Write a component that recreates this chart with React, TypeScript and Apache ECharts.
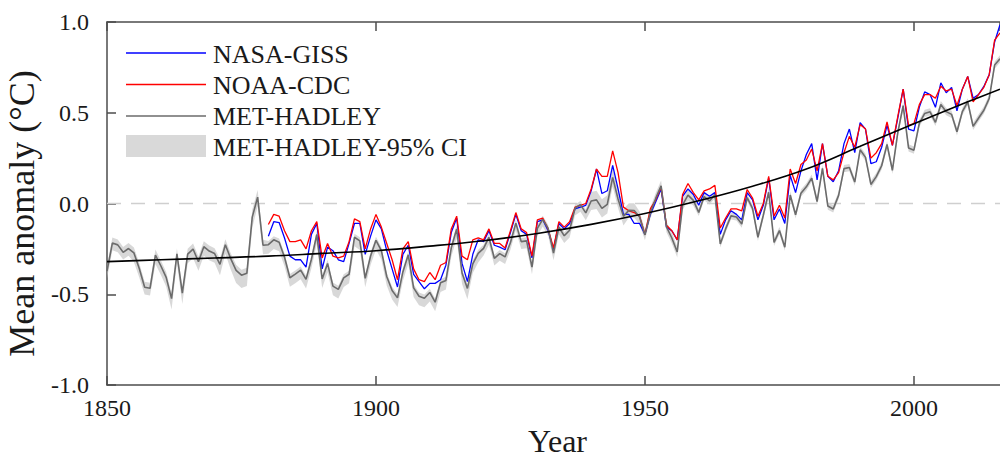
import React, { useEffect, useRef } from "react";
import * as echarts from "echarts";

const hadleyStart = 1850;
const hadley = [
  -0.373, -0.218, -0.228, -0.269, -0.248, -0.272, -0.358, -0.461, -0.467, -0.284,
  -0.343, -0.407, -0.524, -0.278, -0.494, -0.279, -0.251, -0.321, -0.238, -0.262,
  -0.276, -0.335, -0.227, -0.304, -0.368, -0.395, -0.384, -0.075, 0.035, -0.23,
  -0.227, -0.2, -0.213, -0.296, -0.409, -0.389, -0.367, -0.418, -0.307, -0.171,
  -0.416, -0.33, -0.455, -0.473, -0.41, -0.39, -0.186, -0.206, -0.412, -0.289,
  -0.203, -0.259, -0.402, -0.479, -0.52, -0.377, -0.283, -0.465, -0.511, -0.522,
  -0.49, -0.544, -0.437, -0.424, -0.244, -0.141, -0.383, -0.468, -0.333, -0.275,
  -0.247, -0.187, -0.302, -0.276, -0.294, -0.215, -0.108, -0.21, -0.206, -0.35,
  -0.137, -0.087, -0.137, -0.273, -0.131, -0.178, -0.147, -0.026, -0.006, -0.052,
  0.014, 0.02, -0.027, -0.005, 0.144, 0.025, -0.071, -0.038, -0.039, -0.074,
  -0.173, -0.052, 0.028, 0.097, -0.129, -0.19, -0.267, -0.007, 0.046, 0.017,
  -0.049, 0.038, 0.014, 0.048, -0.223, -0.14, -0.068, -0.074, -0.113, 0.032,
  -0.027, -0.186, -0.065, 0.062, -0.214, -0.149, -0.241, 0.047, -0.062, 0.057,
  0.092, 0.14, 0.011, 0.194, -0.014, -0.03, 0.045, 0.192, 0.198, 0.118,
  0.296, 0.254, 0.105, 0.148, 0.208, 0.325, 0.183, 0.39, 0.539, 0.306,
  0.294, 0.441, 0.496, 0.505, 0.447, 0.545, 0.506, 0.491, 0.395, 0.506,
  0.56, 0.425, 0.47, 0.514, 0.579, 0.763, 0.797,
];

// 95% CI distance below / above the MET-HADLEY line, in hundredths of a degree
const ciBelow = [
  4, 4, 4, 4, 4, 5, 5, 4, 4, 5,
  5, 5, 6, 5, 6, 5, 5, 5, 5, 5,
  5, 6, 5, 6, 7, 7, 7, 6, 5, 5,
  5, 5, 5, 5, 5, 5, 5, 5, 5, 5,
  5, 5, 5, 5, 5, 5, 5, 5, 5, 5,
  5, 5, 5, 5, 5, 5, 5, 5, 5, 5,
  5, 5, 5, 5, 5, 5, 6, 6, 5, 5,
  4, 4, 4, 4, 4, 4, 4, 4, 4, 4,
  4, 4, 4, 4, 4, 4, 4, 4, 4, 4,
  5, 5, 5, 5, 5, 5, 5, 4, 4, 4,
  3, 3, 3, 3, 3, 3, 3, 3, 3, 3,
  2, 2, 2, 2, 2, 2, 2, 2, 2, 2,
  2, 2, 2, 2, 2, 2, 2, 2, 2, 2,
  2, 2, 2, 2, 2, 2, 2, 2, 2, 2,
  2, 2, 2, 2, 2, 2, 2, 2, 2, 2,
  2, 2, 2, 2, 2, 2, 2, 2, 2, 2,
  2, 2, 2, 2, 2, 2, 2,
];
const ciAbove = [
  3, 3, 3, 3, 3, 3, 3, 3, 3, 3,
  3, 3, 3, 3, 3, 3, 3, 3, 3, 3,
  3, 3, 3, 3, 3, 3, 3, 4, 4, 3,
  2, 2, 2, 2, 2, 2, 2, 2, 2, 2,
  2, 2, 2, 2, 2, 2, 2, 2, 2, 2,
  2, 2, 2, 2, 2, 2, 2, 2, 2, 2,
  2, 2, 2, 2, 2, 2, 2, 2, 2, 2,
  2, 2, 2, 2, 2, 2, 2, 2, 2, 2,
  2, 2, 2, 2, 2, 2, 2, 2, 2, 2,
  5, 5, 5, 5, 5, 5, 4, 4, 4, 3,
  3, 3, 3, 3, 3, 3, 3, 3, 3, 3,
  2, 2, 2, 2, 2, 2, 2, 2, 2, 2,
  2, 2, 2, 2, 2, 2, 2, 2, 2, 2,
  2, 2, 2, 2, 2, 2, 2, 2, 2, 2,
  2, 2, 2, 2, 2, 2, 2, 2, 2, 2,
  2, 2, 2, 2, 2, 2, 2, 2, 2, 2,
  2, 2, 2, 2, 2, 2, 2,
];

const otherStart = 1880;
const nasa = [
  -0.18, -0.1, -0.105, -0.19, -0.29, -0.31, -0.31, -0.35, -0.17, -0.11,
  -0.36, -0.24, -0.26, -0.31, -0.32, -0.22, -0.11, -0.11, -0.28, -0.18,
  -0.09, -0.14, -0.26, -0.36, -0.46, -0.28, -0.23, -0.39, -0.43, -0.47,
  -0.44, -0.44, -0.42, -0.34, -0.16, -0.08, -0.33, -0.43, -0.28, -0.2,
  -0.21, -0.15, -0.23, -0.24, -0.255, -0.16, -0.06, -0.15, -0.17, -0.3,
  -0.1, -0.09, -0.15, -0.25, -0.11, -0.14, -0.11, -0.03, -0.02, -0.01,
  0.07, 0.19, 0.055, 0.07, 0.21, 0.08, -0.06, -0.06, -0.11, -0.11,
  -0.17, -0.06, 0.01, 0.08, -0.13, -0.15, -0.2, 0.04, 0.08, 0.05,
  -0.01, 0.06, 0.04, 0.06, -0.17, -0.09, -0.04, -0.06, -0.09, 0.06,
  0.02, -0.09, -0.01, 0.14, -0.09, -0.03, -0.11, 0.155, 0.06, 0.18,
  0.27, 0.33, 0.13, 0.33, 0.15, 0.12, 0.18, 0.33, 0.41, 0.28,
  0.445, 0.41, 0.22, 0.23, 0.31, 0.43, 0.32, 0.47, 0.63, 0.41,
  0.4, 0.53, 0.615, 0.6, 0.53, 0.665, 0.61, 0.64, 0.51, 0.63,
  0.7, 0.58, 0.6, 0.645, 0.71, 0.89, 0.985,
];
const noaa = [
  -0.116, -0.06, -0.07, -0.15, -0.21, -0.21, -0.2, -0.25, -0.15, -0.1,
  -0.3, -0.22, -0.29, -0.3, -0.29, -0.21, -0.085, -0.1, -0.25, -0.14,
  -0.06, -0.13, -0.22, -0.31, -0.42, -0.25, -0.21, -0.36, -0.42, -0.43,
  -0.38, -0.42, -0.34, -0.325, -0.14, -0.07, -0.29, -0.31, -0.2, -0.19,
  -0.2, -0.14, -0.22, -0.22, -0.245, -0.15, -0.05, -0.14, -0.16, -0.29,
  -0.09, -0.08, -0.14, -0.245, -0.1, -0.13, -0.1, -0.02, -0.01, 0.0,
  0.08, 0.19, 0.15, 0.15, 0.29, 0.17, -0.02, -0.04, -0.05, -0.07,
  -0.17, -0.03, 0.02, 0.09, -0.12, -0.15, -0.2, 0.05, 0.11, 0.06,
  0.02, 0.07, 0.08, 0.1, -0.135, -0.08, -0.03, -0.03, -0.04, 0.077,
  0.03, -0.07, 0.0, 0.15, -0.07, -0.01, -0.08, 0.19, 0.11, 0.215,
  0.24, 0.3, 0.18, 0.33, 0.15, 0.13, 0.17, 0.28, 0.37, 0.31,
  0.435, 0.41, 0.25, 0.28, 0.33, 0.45, 0.32, 0.48, 0.63, 0.43,
  0.44, 0.545, 0.6, 0.6, 0.58, 0.646, 0.62, 0.63, 0.54, 0.63,
  0.7, 0.56, 0.6, 0.64, 0.71, 0.9, 0.94,
];

const trendYears = [1850, 1860, 1870, 1880, 1890, 1900, 1910, 1920, 1930, 1940, 1950, 1960, 1970, 1980, 1990, 2000, 2010, 2016];
const trendValues = [-0.32, -0.31, -0.3, -0.29, -0.275, -0.26, -0.235, -0.205, -0.165, -0.115, -0.055, 0.015, 0.095, 0.19, 0.315, 0.44, 0.56, 0.63];

const xMin = 1850;
const xMax = 2016;
const xInterval = 50;
const yMin = -1;
const yMax = 1;
const yInterval = 0.5;
const seriesNames = ["NASA-GISS", "NOAA-CDC", "MET-HADLEY", "MET-HADLEY-95% CI"];
const xTitle = "Year";
const yTitle = "Mean anomaly (°C)";

const FONT = "Liberation Serif";
const AXIS_COLOR = "#4d4d4d";
const TEXT_COLOR = "#1a1a1a";

export default function App() {
  const ref = useRef<HTMLDivElement>(null);

  useEffect(() => {
    if (!ref.current) return;
    const chart = echarts.init(ref.current, undefined, { renderer: "svg" });

    const hadleyData = hadley.map((v, i) => [hadleyStart + i, v]);
    const nasaData = nasa.map((v, i) => [otherStart + i, v]);
    const noaaData = noaa.map((v, i) => [otherStart + i, v]);
    const trendData = trendYears.map((y, i) => [y, trendValues[i]]);

    const axisCommon = {
      type: "value" as const,
      axisLine: { show: true, onZero: false, lineStyle: { color: AXIS_COLOR, width: 1.5 } },
      axisTick: { show: true, inside: true, length: 9, lineStyle: { color: AXIS_COLOR, width: 1.5 } },
      splitLine: { show: false },
    };

    const legendY = [53, 84.5, 116];
    const legendColors = ["#0000ff", "#ff0000", "#6b6b6b"];
    const graphic: any[] = [];
    legendColors.forEach((c, i) => {
      graphic.push({
        type: "line",
        z: 100,
        shape: { x1: 126, y1: legendY[i], x2: 206, y2: legendY[i] },
        style: { stroke: c, lineWidth: 1.3 },
      });
    });
    graphic.push({
      type: "rect",
      z: 100,
      shape: { x: 126, y: 135, width: 80, height: 22 },
      style: { fill: "#d9d9d9" },
    });
    const textY = [54, 85, 116.5, 147];
    seriesNames.forEach((n, i) => {
      graphic.push({
        type: "text",
        z: 100,
        x: 213,
        y: textY[i],
        style: {
          text: n,
          fontFamily: FONT,
          fontSize: 26,
          fill: TEXT_COLOR,
          align: "left",
          verticalAlign: "middle",
        },
      });
    });

    chart.setOption({
      animation: false,
      backgroundColor: "#ffffff",
      textStyle: { fontFamily: FONT, color: TEXT_COLOR },
      grid: {
        left: 107,
        right: 0,
        top: 22,
        bottom: 75,
        containLabel: false,
        outerBoundsMode: "none",
      },
      xAxis: [
        {
          ...axisCommon,
          position: "bottom",
          min: xMin,
          max: xMax,
          interval: xInterval,
          axisLabel: {
            show: true,
            showMaxLabel: false,
            margin: 11,
            fontFamily: FONT,
            fontSize: 24,
            color: TEXT_COLOR,
            formatter: (v: number) => String(v),
          },
          name: xTitle,
          nameLocation: "middle",
          nameGap: 38,
          nameTextStyle: {
            fontFamily: FONT,
            fontSize: 32,
            lineHeight: 32,
            color: TEXT_COLOR,
            padding: [0, 0, 0, 8],
          },
        },
        {
          ...axisCommon,
          position: "top",
          min: xMin,
          max: xMax,
          interval: xInterval,
          axisLabel: { show: false },
        },
      ],
      yAxis: [
        {
          ...axisCommon,
          position: "left",
          min: yMin,
          max: yMax,
          interval: yInterval,
          axisLabel: {
            show: true,
            margin: 18,
            fontFamily: FONT,
            fontSize: 24,
            color: TEXT_COLOR,
            formatter: (v: number) => v.toFixed(1),
          },
          name: yTitle,
          nameLocation: "middle",
          nameGap: 60,
          nameRotate: 90,
          nameTextStyle: { fontFamily: FONT, fontSize: 36, color: TEXT_COLOR, padding: [0, 20, 0, 0] },
        },
      ],
      graphic,
      series: [
        {
          type: "line",
          name: "zero",
          data: [[xMin, 0], [xMax, 0]],
          symbol: "none",
          silent: true,
          lineStyle: { color: "#cfcfcf", width: 1.5, type: [14, 10] },
        },
        {
          type: "line",
          name: seriesNames[0],
          data: nasaData,
          symbol: "none",
          lineStyle: { color: "#0000ff", width: 1.3 },
        },
        {
          type: "line",
          name: seriesNames[1],
          data: noaaData,
          symbol: "none",
          lineStyle: { color: "#ff0000", width: 1.3 },
        },
        {
          type: "custom",
          name: seriesNames[3],
          coordinateSystem: "cartesian2d",
          data: [[xMin, 0]],
          encode: { x: 0, y: 1 },
          silent: true,
          renderItem: (params: any, api: any) => {
            if (params.dataIndex !== 0) return null;
            const upper = hadley.map((v, i) => api.coord([hadleyStart + i, v + ciAbove[i] / 100]));
            const lower = hadley.map((v, i) => api.coord([hadleyStart + i, v - ciBelow[i] / 100])).reverse();
            return {
              type: "polygon",
              shape: { points: upper.concat(lower) },
              style: { fill: "rgba(190,190,190,0.6)", stroke: "none" },
            };
          },
        },
        {
          type: "line",
          name: seriesNames[2],
          data: hadleyData,
          symbol: "none",
          lineStyle: { color: "#6b6b6b", width: 1.6 },
        },
        {
          type: "line",
          name: "trend",
          data: trendData,
          symbol: "none",
          smooth: 0.4,
          lineStyle: { color: "#000000", width: 1.6 },
        },
      ],
    });

    return () => chart.dispose();
  }, []);

  return (
    <div
      ref={ref}
      style={{ position: "absolute", left: 0, top: 0, width: 1000, height: 460, background: "#fff" }}
    />
  );
}
